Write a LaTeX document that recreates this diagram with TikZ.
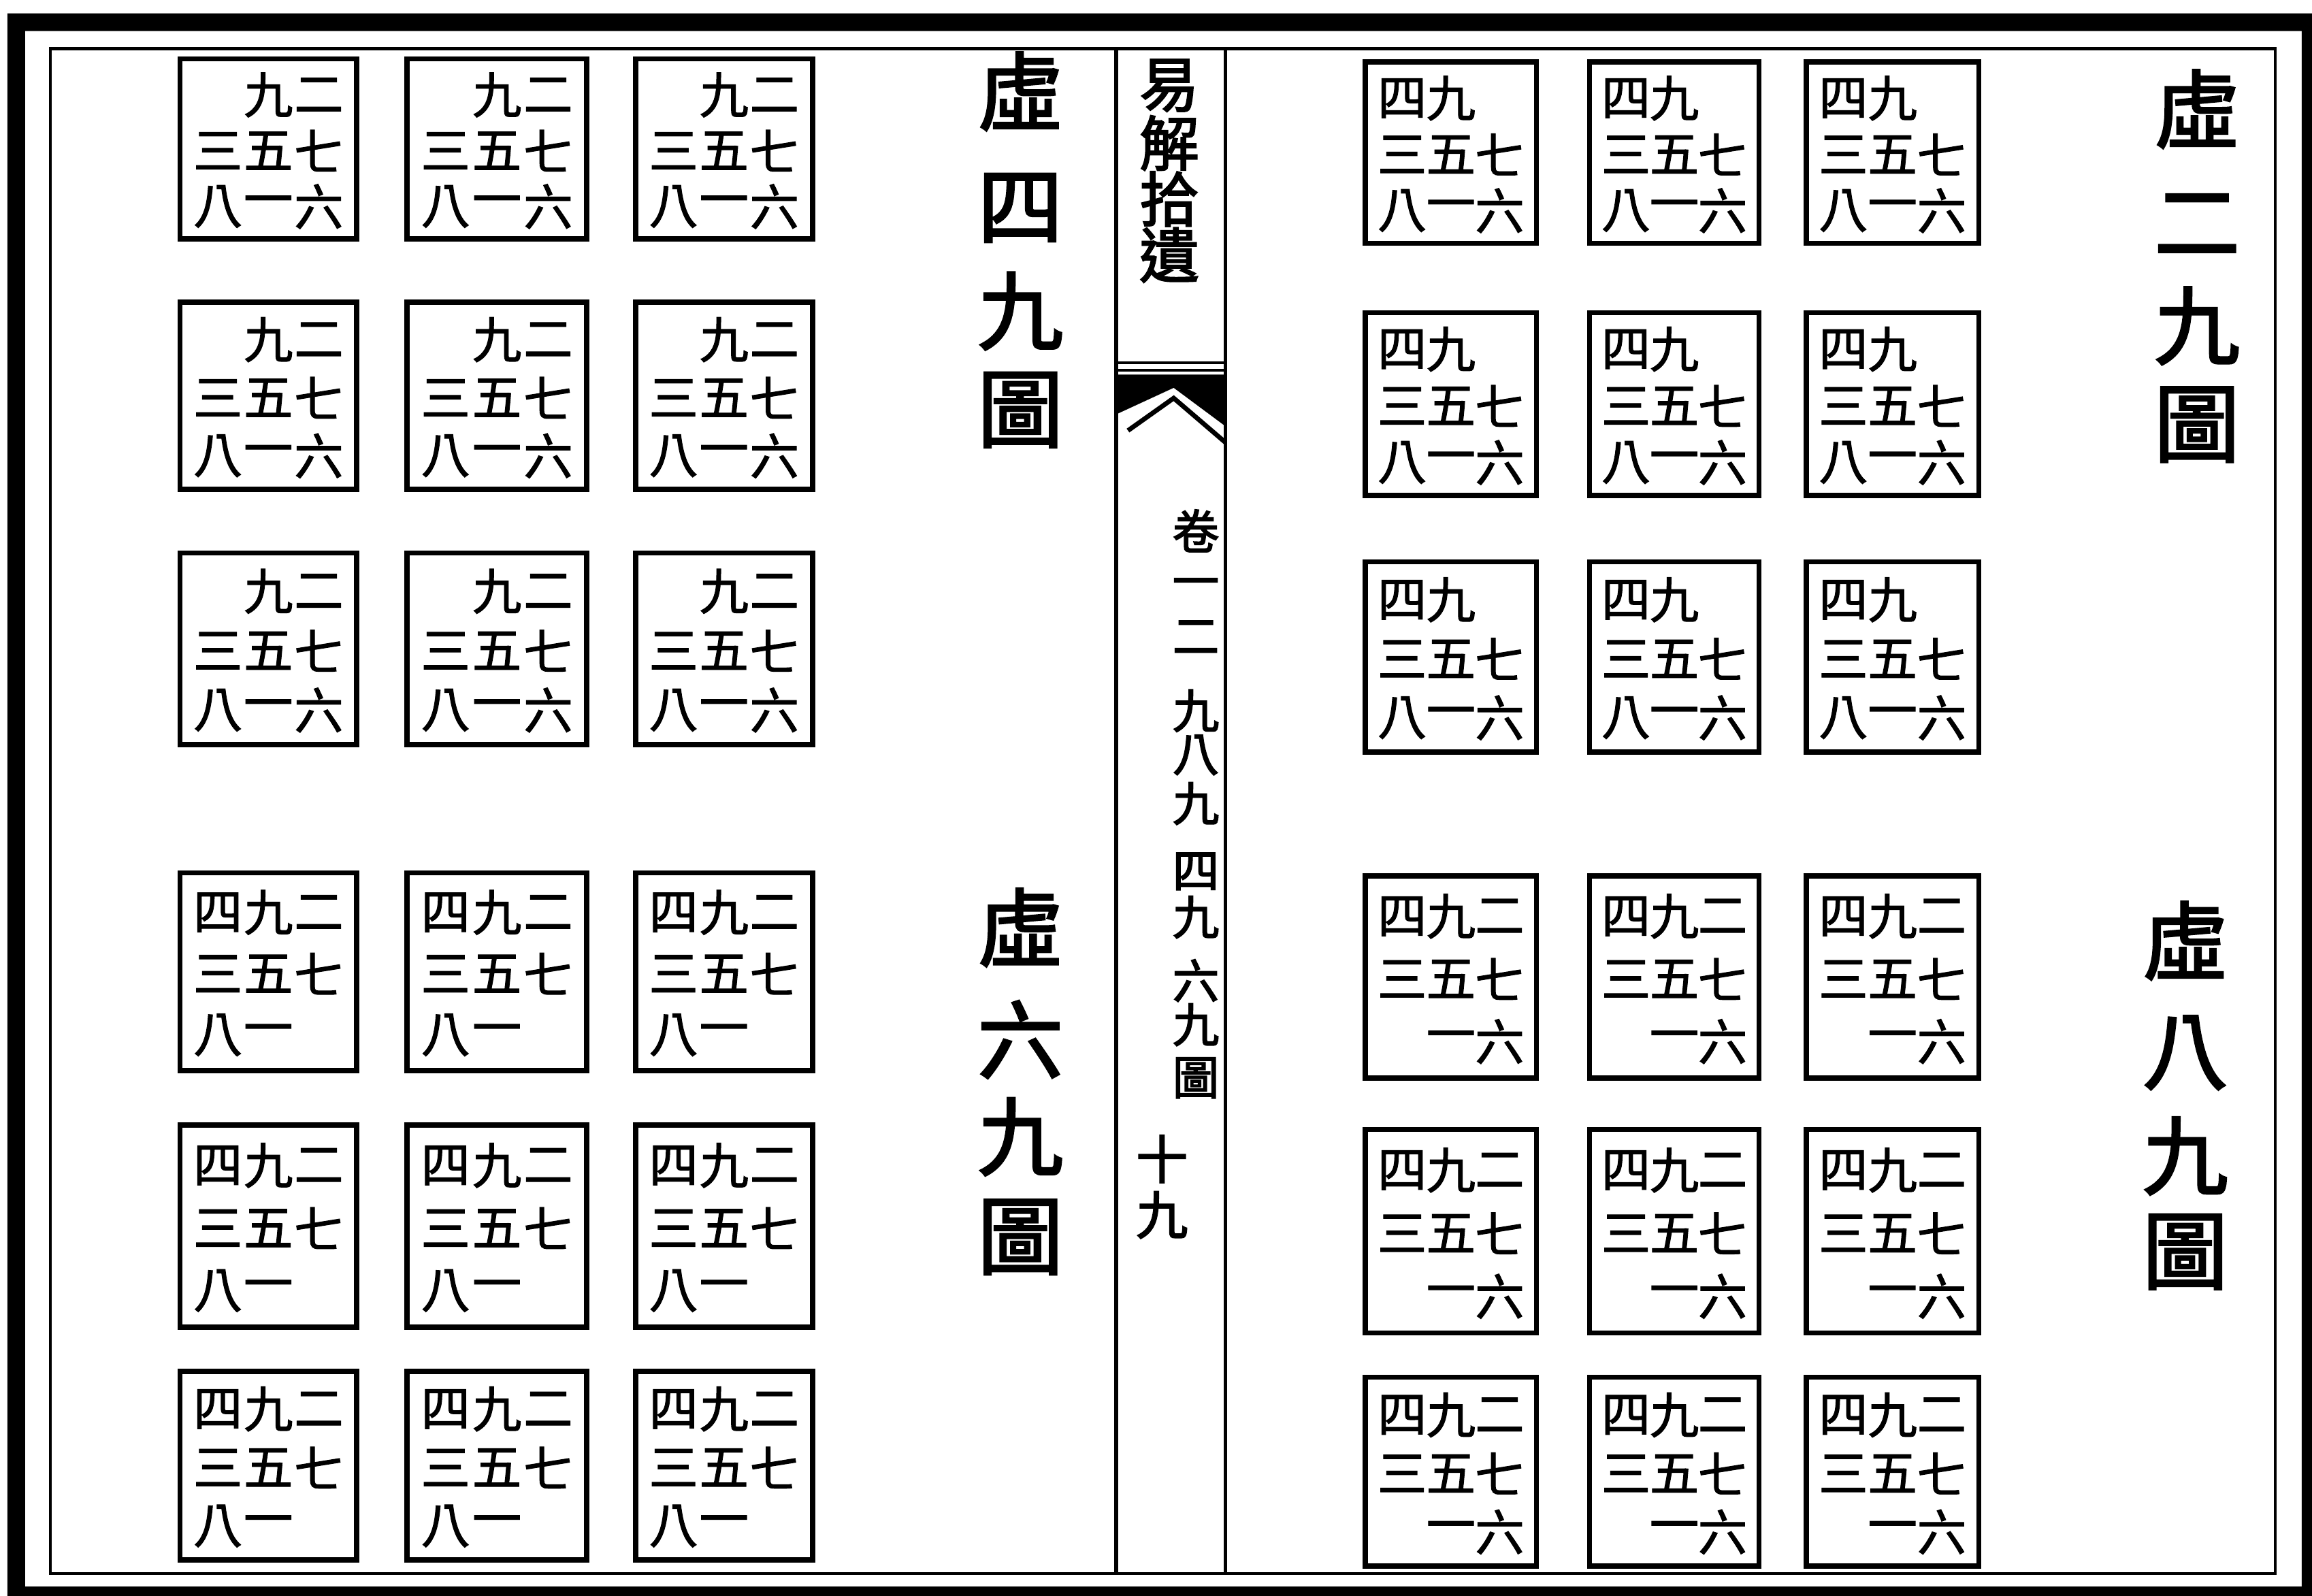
\documentclass[tikz,border=0pt]{standalone}
\usepackage{fontspec}
\newfontfamily\cjkn[RawFeature={embolden=1.6}]{Noto Sans CJK TC}
\newfontfamily\cjkh[RawFeature={embolden=2.5}]{Noto Sans CJK TC}
\tikzset{
  framethick/.style={fill=black, even odd rule},
  framethin/.style={line width=1.1pt},
  colline/.style={line width=1.4pt},
  boxst/.style={draw, rectangle, line width=2pt, inner sep=0pt},
  numst/.style={inner sep=0pt, font=\cjkn\fontsize{19pt}{19pt}\selectfont},
  headst/.style={inner sep=0pt, font=\cjkh\fontsize{33pt}{33pt}\selectfont},
  titlest/.style={inner sep=0pt, font=\cjkh\fontsize{23pt}{23pt}\selectfont},
  colst/.style={inner sep=0pt, font=\cjkh\fontsize{18pt}{18pt}\selectfont},
  pagest/.style={inner sep=0pt, font=\cjkh\fontsize{20pt}{20pt}\selectfont},
}
\newcommand\lsbox[6]{%
  \def\curname{#1}\def\bx{#2}\def\by{#3}\def\bw{(#4-#2)}\def\bh{(#5-#3)}%
  \node[boxst, minimum width={(#4-#2)*0.02cm}, minimum height={(#5-#3)*0.02cm}]
    (#1) at ({(#2+#4)/2},{(#3+#5)/2}) {};
  #6}
\newcommand\lscell[3]{%
  \node[numst] (\curname-#1#2) at ({\bx+(0.215+(#2-1)*0.285)*\bw},{\by+(0.2+(#1-1)*0.31)*\bh}) {#3};}
% patterns: 4 9 2 / 3 5 7 / 8 1 6 with one number left empty
\newcommand\patfour{\lscell12{九}\lscell13{二}\lscell21{三}\lscell22{五}\lscell23{七}\lscell31{八}\lscell32{一}\lscell33{六}}
\newcommand\patsix{\lscell11{四}\lscell12{九}\lscell13{二}\lscell21{三}\lscell22{五}\lscell23{七}\lscell31{八}\lscell32{一}}
\newcommand\pattwo{\lscell11{四}\lscell12{九}\lscell21{三}\lscell22{五}\lscell23{七}\lscell31{八}\lscell32{一}\lscell33{六}}
\newcommand\pateight{\lscell11{四}\lscell12{九}\lscell13{二}\lscell21{三}\lscell22{五}\lscell23{七}\lscell32{一}\lscell33{六}}
\begin{document}
\begin{tikzpicture}[x=0.02cm, y=-0.02cm]
\useasboundingbox (0,0) rectangle (1568,1082.4);
\fill[white] (0,0) rectangle (1568,1082.4);
% outer heavy border
\fill[framethick] (5,9) rectangle (1568,1082.4) (17,21) rectangle (1561,1076);
% inner thin frame
\draw[framethin] (34,33) rectangle (1543,1067);
% centre column (banxin)
\draw[colline] (757,33) -- (757,1067);
\draw[colline] (831,33) -- (831,1067);
\draw[line width=1.2pt] (757,246) -- (831,246);
\draw[line width=1pt] (757,251) -- (831,251);
\fill (757,254) -- (831,254) -- (831,289) -- (796,263) -- (757,281) -- cycle;
\draw[line width=1.8pt] (765,292) -- (796,270) -- (831,300);
% title
\foreach \ch/\yy [count=\k] in {易/58, 解/97, 拾/135, 遺/173}
  {\node[titlest] (title\k) at (793,\yy) {\ch};}
% column text
\foreach \ch/\yy [count=\k] in {卷/360, 一/399, 二/432, 九/482, 八/512, 九/545, 四/591, 九/622, 六/665, 九/695, 圖/731}
  {\node[colst] (col\k) at (811,\yy) {\ch};}
\node[pagest] (page1) at (788,786) {十};
\node[pagest] (page2) at (788,824) {九};
% headings
\foreach \ch/\yy [count=\k] in {虛/62, 四/141, 九/211, 圖/278}
  {\node[headst] (hA\k) at (692,\yy) {\ch};}
\foreach \ch/\yy [count=\k] in {虛/629, 六/705, 九/771, 圖/839}
  {\node[headst] (hB\k) at (692,\yy) {\ch};}
\foreach \ch/\yy [count=\k] in {虛/74, 二/152, 九/221, 圖/288}
  {\node[headst] (hC\k) at (1490,\yy) {\ch};}
\foreach \ch/\yy [count=\k] in {虛/638, 八/714, 九/784, 圖/849}
  {\node[headst] (hD\k) at (1482,\yy) {\ch};}
% left page: 虛四九圖
\foreach \c/\xa/\xb in {1/122/242, 2/276/398, 3/431/551}{
  \foreach \r/\ya/\yb in {1/40/162, 2/205/332, 3/375/505}{
    \lsbox{A\r\c}{\xa}{\ya}{\xb}{\yb}{\patfour}}}
% left page: 虛六九圖
\foreach \c/\xa/\xb in {1/122/242, 2/276/398, 3/431/551}{
  \foreach \r/\ya/\yb in {1/592/726, 2/763/900, 3/930/1058}{
    \lsbox{B\r\c}{\xa}{\ya}{\xb}{\yb}{\patsix}}}
% right page: 虛二九圖
\foreach \c/\xa/\xb in {1/926/1042, 2/1078/1193, 3/1225/1342}{
  \foreach \r/\ya/\yb in {1/42/165, 2/212/336, 3/381/510}{
    \lsbox{C\r\c}{\xa}{\ya}{\xb}{\yb}{\pattwo}}}
% right page: 虛八九圖
\foreach \c/\xa/\xb in {1/926/1042, 2/1078/1193, 3/1225/1342}{
  \foreach \r/\ya/\yb in {1/594/731, 2/766/904, 3/934/1062}{
    \lsbox{D\r\c}{\xa}{\ya}{\xb}{\yb}{\pateight}}}
\end{tikzpicture}
\end{document}
